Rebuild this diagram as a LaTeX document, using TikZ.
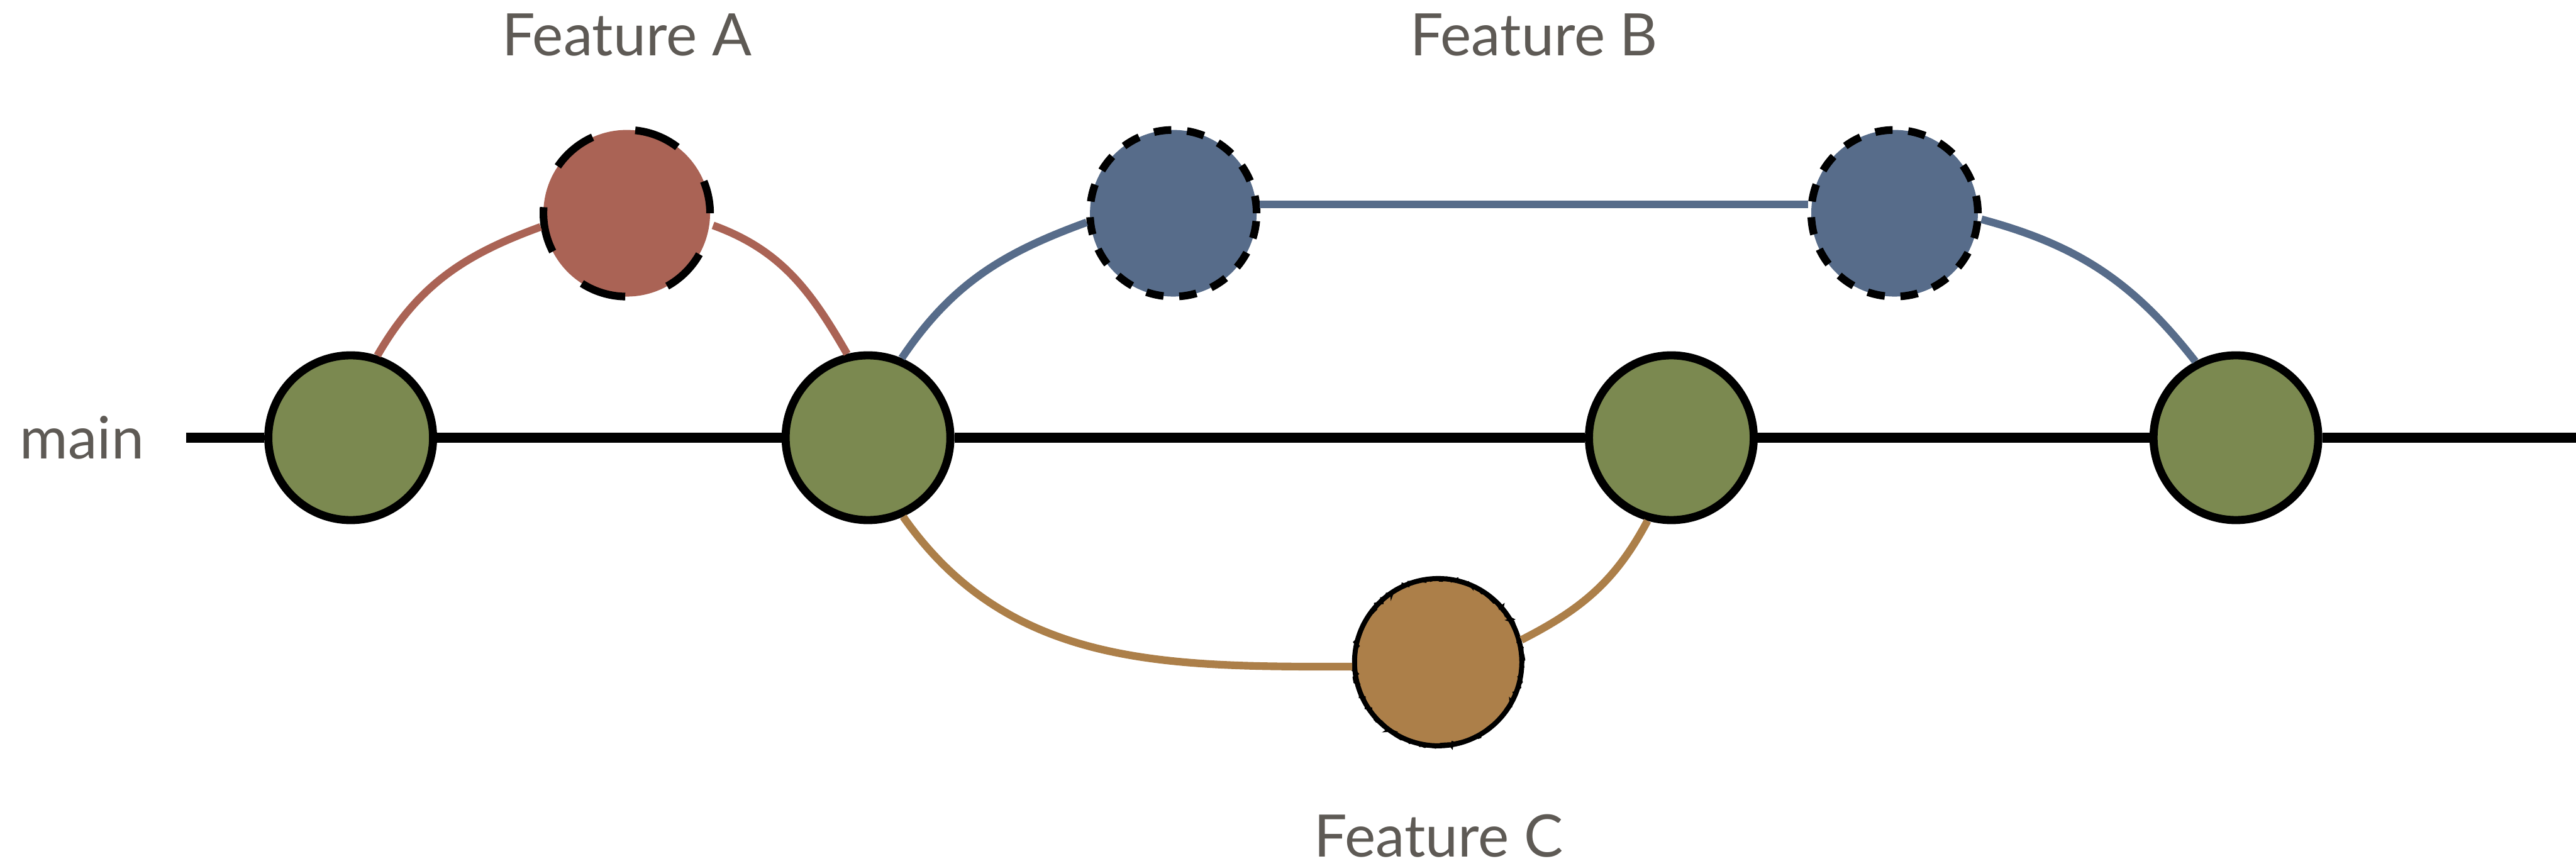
\documentclass[tikz,border=0pt]{standalone}
\usepackage{fontspec}
\setmainfont{Lato}
\usetikzlibrary{decorations.pathmorphing}

\definecolor{mainGreen}{RGB}{123,137,80}
\definecolor{featRed}{RGB}{170,99,85}
\definecolor{featBlue}{RGB}{87,108,138}
\definecolor{featBrown}{RGB}{172,127,73}
\definecolor{tagGray}{RGB}{94,90,85}

\begin{document}
\begin{tikzpicture}[
    commit/.style={circle, minimum size=2.65cm, inner sep=0pt, fill=mainGreen, draw=black, line width=3.7pt},
    commitA/.style={circle, minimum size=2.68cm, inner sep=0pt, fill=featRed, draw=black, line width=3.5pt, dash pattern=on 21pt off 20pt, dash phase=6pt},
    commitB/.style={circle, minimum size=2.68cm, inner sep=0pt, fill=featBlue, draw=black, line width=3.5pt, dash pattern=on 8pt off 7.2pt},
    commitC/.style={circle, minimum size=2.69cm, inner sep=0pt, fill=featBrown, draw=black, line width=2.3pt,
        postaction={draw=black, line width=1.2pt, decorate, decoration={random steps, segment length=1.4pt, amplitude=1pt}}},
    trunk/.style={line width=4.5pt},
    branch/.style={line width=3.5pt},
    tag/.style={text=tagGray, font=\fontsize{26.8}{30}\selectfont, inner sep=0pt, anchor=base}
]
    \useasboundingbox (0,0) rectangle (41.43,13.92);

    % Commits on main
    \node[commit] (g1) at (5.64,6.88) {};
    \node[commit] (g2) at (13.96,6.88) {};
    \node[commit] (g3) at (26.88,6.88) {};
    \node[commit] (g4) at (35.96,6.88) {};

    % Feature commits
    \node[commitA] (fa) at (10.08,10.49) {};
    \node[commitB] (fb1) at (18.87,10.49) {};
    \node[commitB] (fb2) at (30.47,10.49) {};
    \node[commitC] (fc) at (23.13,3.27) {};

    % Main line
    \coordinate (start) at (2.99,6.88);
    \coordinate (end) at (41.43,6.88);
    \draw[trunk] (start) -- (g1) -- (g2) -- (g3) -- (g4) -- (end);

    % Feature A branch
    \draw[branch, featRed] (g1.72) to[out=60, in=200] (fa.189);
    \draw[branch, featRed] (fa.-8) to[out=-20, in=120] (g2.104);

    % Feature B branch
    \draw[branch, featBlue] (g2.67) to[out=56, in=200] (fb1.186);
    \draw[branch, featBlue] (fb1.6) -- (fb2.174);
    \draw[branch, featBlue] (fb2.-4) to[out=-15, in=128] (g4.118);

    % Feature C branch
    \draw[branch, featBrown] (g2.-66) to[out=-55, in=180] (fc.183);
    \draw[branch, featBrown] (fc.15) to[out=27, in=242] (g3.-106);

    % Labels
    \node[tag] (lmain) at (1.32,6.54) {main};
    \node[tag] (lA) at (10.08,13.02) {Feature A};
    \node[tag] (lB) at (24.67,13.02) {Feature B};
    \node[tag] (lC) at (23.14,0.14) {Feature C};
\end{tikzpicture}
\end{document}
